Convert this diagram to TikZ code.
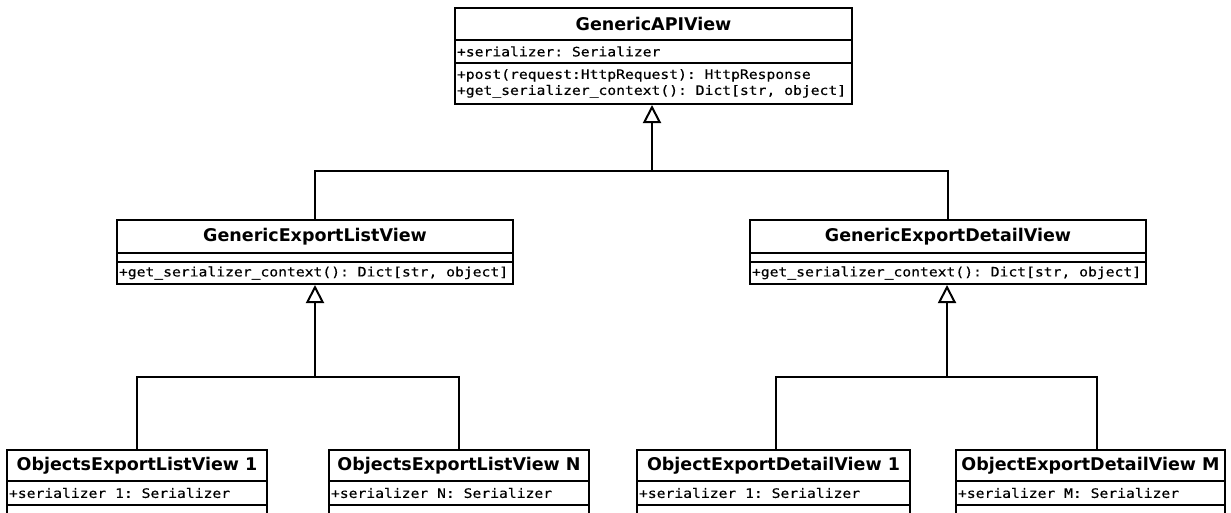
\documentclass[tikz,border=0pt]{standalone}
\usepackage{fontspec}
\setmainfont{DejaVu Sans}
\newfontfamily\umlmono[FakeStretch=1.13, FakeBold=0.4]{DejaVu Sans Mono}
\newcommand\msp{\phantom{x}}
\usetikzlibrary{arrows.meta}
\tikzset{
  umlbox/.style={draw, line width=2pt, inner sep=0pt, outer sep=0pt},
  umltitle/.style={umlbox, anchor=north west, font=\bfseries\fontsize{17.5}{20}\selectfont, align=center},
  umlsec/.style={umlbox, anchor=north west, font=\umlmono\fontsize{13}{16}\selectfont, align=left, inner xsep=2pt, inner ysep=0pt},
  conn/.style={line width=2pt},
  gen/.style={line width=2pt, -{Triangle[open, width=18pt, length=18pt, line width=2pt]}, shorten >=1pt},
}
\begin{document}
\begin{tikzpicture}[x=1pt, y=-1pt]
\clip (0,0) rectangle (1231,512);
\fill[white] (0,0) rectangle (1231,512);

% GenericAPIView
\node[umltitle, minimum width=397pt, minimum height=32pt] (api) at (455,8) {GenericAPIView};
\node[umlsec, minimum width=397pt, text width=393pt, minimum height=23pt] (apiA) at (455,40) {+serializer:\msp Serializer};
\node[umlsec, minimum width=397pt, text width=393pt, minimum height=41pt] (apiM) at (455,63) {+post(request:HttpRequest):\msp HttpResponse\\+get\_serializer\_context():\msp Dict[str,\msp object]};

% GenericExportListView
\node[umltitle, minimum width=396pt, minimum height=33pt] (gl) at (117,220) {GenericExportListView};
\node[umlsec, minimum width=396pt, text width=392pt, minimum height=9pt] (glA) at (117,253) {};
\node[umlsec, minimum width=396pt, text width=392pt, minimum height=22pt] (glM) at (117,262) {+get\_serializer\_context():\msp Dict[str,\msp object]};

% GenericExportDetailView
\node[umltitle, minimum width=396pt, minimum height=33pt] (gd) at (750,220) {GenericExportDetailView};
\node[umlsec, minimum width=396pt, text width=392pt, minimum height=9pt] (gdA) at (750,253) {};
\node[umlsec, minimum width=396pt, text width=392pt, minimum height=22pt] (gdM) at (750,262) {+get\_serializer\_context():\msp Dict[str,\msp object]};

% bottom classes
\node[umltitle, minimum width=260pt, minimum height=31pt] (b1) at (7,450) {ObjectsExportListView 1};
\node[umlsec, minimum width=260pt, text width=256pt, minimum height=24pt] (b1A) at (7,481) {+serializer\msp 1:\msp Serializer};
\node[umlsec, minimum width=260pt, text width=256pt, minimum height=30pt] (b1M) at (7,505) {};

\node[umltitle, minimum width=260pt, minimum height=31pt] (b2) at (329,450) {ObjectsExportListView N};
\node[umlsec, minimum width=260pt, text width=256pt, minimum height=24pt] (b2A) at (329,481) {+serializer\msp N:\msp Serializer};
\node[umlsec, minimum width=260pt, text width=256pt, minimum height=30pt] (b2M) at (329,505) {};

\node[umltitle, minimum width=273pt, minimum height=31pt] (b3) at (637,450) {ObjectExportDetailView 1};
\node[umlsec, minimum width=273pt, text width=269pt, minimum height=24pt] (b3A) at (637,481) {+serializer\msp 1:\msp Serializer};
\node[umlsec, minimum width=273pt, text width=269pt, minimum height=30pt] (b3M) at (637,505) {};

\node[umltitle, minimum width=269pt, minimum height=31pt] (b4) at (956,450) {ObjectExportDetailView M};
\node[umlsec, minimum width=269pt, text width=265pt, minimum height=24pt] (b4A) at (956,481) {+serializer\msp M:\msp Serializer};
\node[umlsec, minimum width=269pt, text width=265pt, minimum height=30pt] (b4M) at (956,505) {};

% connectors
\coordinate (J1) at (652,171);
\draw[conn] (gl.north) |- (J1) -| (gd.north);
\draw[gen] (J1) -- (J1 |- apiM.south);

\coordinate (J2) at (315,377);
\draw[conn] (b1.north) |- (J2) -| (b2.north);
\draw[gen] (J2) -- (glM.south);

\coordinate (J3) at (947,377);
\coordinate (K3) at (776,377);
\coordinate (K4) at (1097,377);
\draw[conn] (K3 |- b3.north) -- (K3) -- (K4) -- (K4 |- b4.north);
\draw[gen] (J3) -- (J3 |- gdM.south);
\end{tikzpicture}
\end{document}
